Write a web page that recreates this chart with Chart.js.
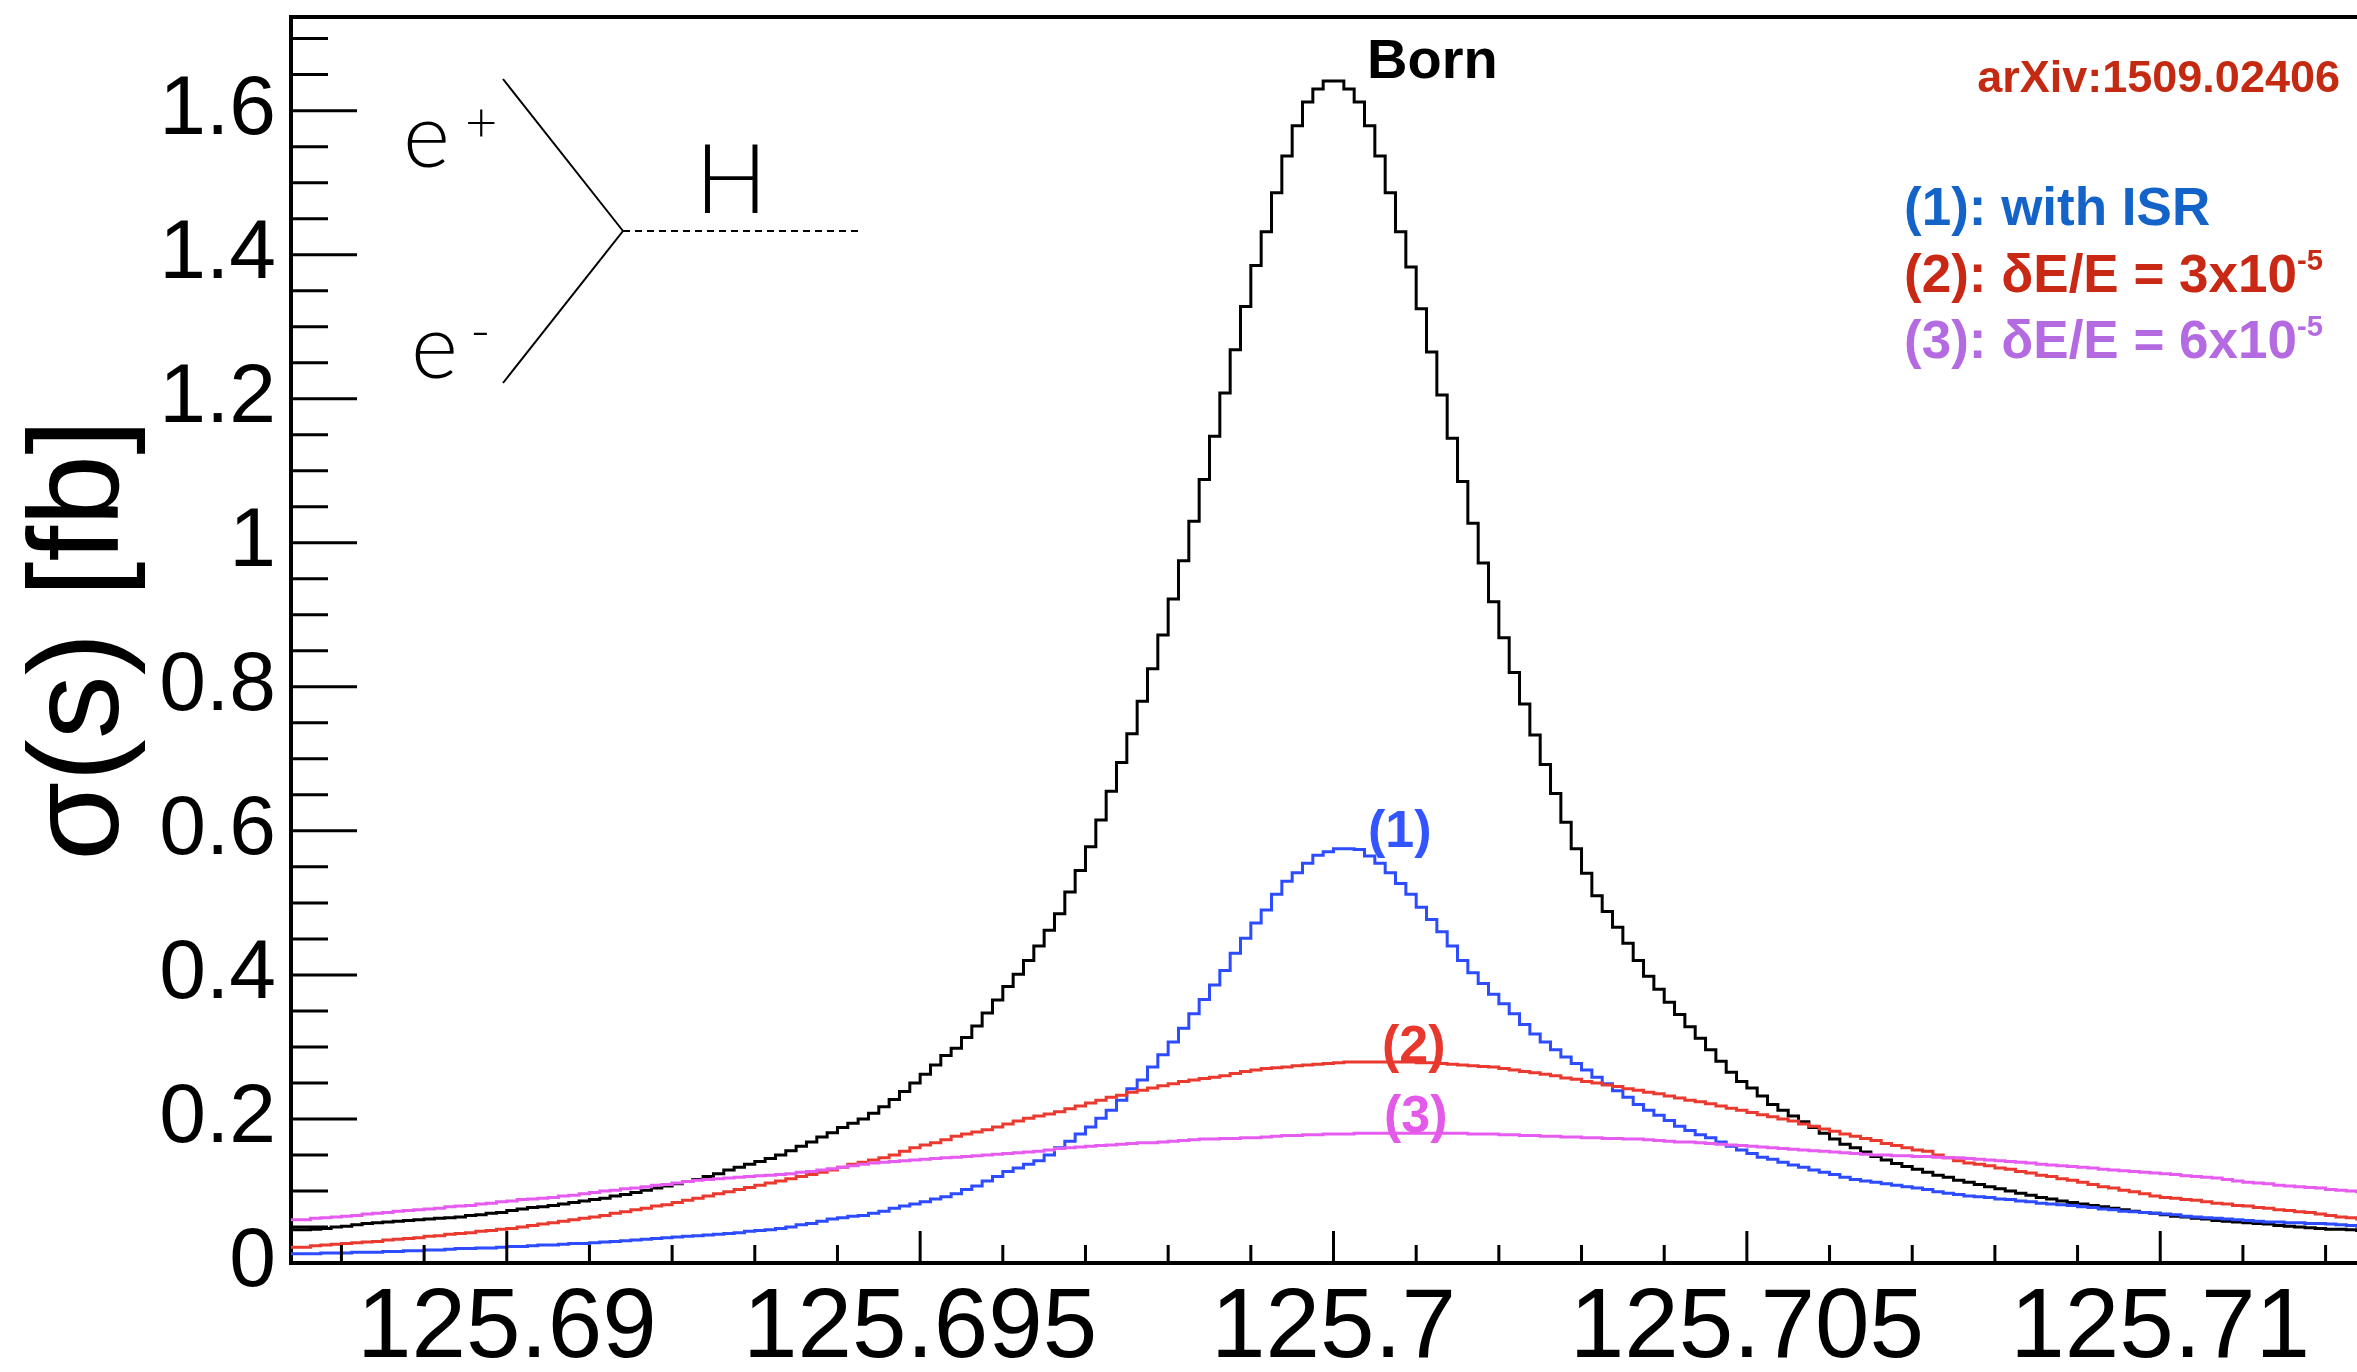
<!DOCTYPE html>
<html lang="en">
<head>
    <meta charset="UTF-8">
    <title>e+e- -> H line shape</title>
    <script src="https://cdn.jsdelivr.net/npm/chart.js@4.4.1/dist/chart.umd.min.js"></script>
    <style>
        body { margin: 0; background: #fff; overflow: hidden; }
        #wrap { position: relative; width: 2357px; height: 1372px; }
        .txt { position: absolute; white-space: nowrap; line-height: 1; font-family: "Liberation Sans", Arial, sans-serif; font-weight: bold; }
        .txt sup { font-size: 0.55em; line-height: 0; vertical-align: 0.75em; }
        .thin { position: absolute; white-space: nowrap; line-height: 1; font-family: Lato, "Liberation Sans", sans-serif; font-weight: 300; color: #000; }
    </style>
</head>
<body>
<div id="wrap">
    <canvas id="lineshape" width="2357" height="1372"></canvas>

    <!-- e+ e- -> H diagram -->
    <svg style="position:absolute;left:0;top:0" width="2357" height="1372">
        <line x1="503" y1="79" x2="623" y2="231" stroke="#000" stroke-width="2"/>
        <line x1="623" y1="231" x2="503" y2="383" stroke="#000" stroke-width="2"/>
        <line x1="623" y1="231" x2="861" y2="231" stroke="#000" stroke-width="2" stroke-dasharray="7 5"/>
    </svg>
    <div class="thin" style="left:403px;top:87px;font-size:90px">e</div>
    <div class="thin" style="left:465px;top:93px;font-size:56px">+</div>
    <div class="thin" style="left:411px;top:298px;font-size:90px">e</div>
    <div class="thin" style="left:470px;top:301px;font-size:56px">-</div>
    <div class="thin" style="left:695px;top:128px;font-size:96px">H</div>

    <!-- labels -->
    <div class="txt" style="left:1367px;top:31px;font-size:56px;color:#000">Born</div>
    <div class="txt" style="right:17px;top:54px;font-size:45px;color:#c42a12">arXiv:1509.02406</div>
    <div class="txt" style="left:1904px;top:180px;font-size:53px;color:#1463c8">(1): with ISR</div>
    <div class="txt" style="left:1904px;top:247px;font-size:53px;color:#c82814">(2): δE/E = 3x10<sup>-5</sup></div>
    <div class="txt" style="left:1904px;top:313px;font-size:53px;color:#b46ae0">(3): δE/E = 6x10<sup>-5</sup></div>
    <div class="txt" style="left:1368px;top:803px;font-size:52px;color:#3355ff">(1)</div>
    <div class="txt" style="left:1382px;top:1018px;font-size:52px;color:#e8382d">(2)</div>
    <div class="txt" style="left:1384px;top:1088px;font-size:52px;color:#e35ae8">(3)</div>
</div>

<script>
    // binning of the histograms (sqrt(s) in GeV)
    const binStart = 125.6875;
    const binWidth = 0.000125;
    const xMin = 125.68739;
    const xMax = 125.71238;
    const yMax = 1.73;

    const xTicks = [125.69, 125.695, 125.7, 125.705, 125.71];
    const xTickLabels = ['125.69', '125.695', '125.7', '125.705', '125.71'];
    const yTicks = [0, 0.2, 0.4, 0.6, 0.8, 1.0, 1.2, 1.4, 1.6];
    const yTickLabels = ['0', '0.2', '0.4', '0.6', '0.8', '1', '1.2', '1.4', '1.6'];

    // sigma(s) [fb], one value per bin (200 bins)
    const born = [
        0.046, 0.047, 0.048, 0.050, 0.051, 0.053, 0.055, 0.056, 0.057, 0.058,
        0.059, 0.060, 0.061, 0.062, 0.063, 0.064, 0.066, 0.067, 0.069, 0.070,
        0.073, 0.075, 0.077, 0.078, 0.080, 0.082, 0.084, 0.086, 0.088, 0.090,
        0.093, 0.095, 0.098, 0.101, 0.104, 0.107, 0.110, 0.113, 0.116, 0.120,
        0.124, 0.129, 0.133, 0.137, 0.141, 0.145, 0.150, 0.156, 0.162, 0.168,
        0.175, 0.181, 0.188, 0.194, 0.200, 0.208, 0.217, 0.227, 0.238, 0.250,
        0.262, 0.275, 0.288, 0.298, 0.313, 0.329, 0.347, 0.365, 0.384, 0.401,
        0.420, 0.440, 0.462, 0.485, 0.515, 0.545, 0.578, 0.615, 0.655, 0.695,
        0.735, 0.780, 0.825, 0.872, 0.922, 0.975, 1.030, 1.088, 1.148, 1.208,
        1.268, 1.328, 1.385, 1.432, 1.486, 1.537, 1.579, 1.612, 1.630, 1.641,
        1.641, 1.630, 1.612, 1.579, 1.537, 1.486, 1.432, 1.383, 1.325, 1.265,
        1.205, 1.145, 1.085, 1.027, 0.972, 0.918, 0.868, 0.820, 0.776, 0.733,
        0.692, 0.652, 0.612, 0.575, 0.541, 0.510, 0.488, 0.466, 0.444, 0.420,
        0.398, 0.380, 0.362, 0.345, 0.328, 0.312, 0.296, 0.280, 0.265, 0.252,
        0.243, 0.232, 0.220, 0.212, 0.204, 0.196, 0.188, 0.180, 0.172, 0.165,
        0.160, 0.154, 0.148, 0.143, 0.138, 0.134, 0.130, 0.126, 0.122, 0.119,
        0.115, 0.112, 0.109, 0.106, 0.103, 0.100, 0.097, 0.094, 0.091, 0.089,
        0.086, 0.084, 0.082, 0.080, 0.078, 0.076, 0.074, 0.072, 0.070, 0.069,
        0.067, 0.065, 0.064, 0.062, 0.061, 0.059, 0.058, 0.057, 0.056, 0.055,
        0.054, 0.052, 0.051, 0.050, 0.049, 0.048, 0.047, 0.047, 0.046, 0.045
    ];

    const withISR = [
        0.013, 0.013, 0.014, 0.014, 0.014, 0.015, 0.015, 0.015, 0.016, 0.016,
        0.017, 0.017, 0.018, 0.018, 0.019, 0.020, 0.020, 0.021, 0.021, 0.022,
        0.023, 0.023, 0.024, 0.025, 0.025, 0.026, 0.027, 0.027, 0.028, 0.029,
        0.030, 0.031, 0.032, 0.033, 0.034, 0.035, 0.036, 0.037, 0.038, 0.039,
        0.040, 0.041, 0.042, 0.044, 0.045, 0.046, 0.048, 0.050, 0.053, 0.055,
        0.058, 0.061, 0.063, 0.065, 0.066, 0.069, 0.072, 0.076, 0.079, 0.082,
        0.085, 0.089, 0.092, 0.096, 0.102, 0.107, 0.114, 0.120, 0.127, 0.132,
        0.137, 0.142, 0.150, 0.160, 0.169, 0.179, 0.189, 0.201, 0.212, 0.226,
        0.242, 0.254, 0.272, 0.289, 0.307, 0.326, 0.346, 0.366, 0.386, 0.406,
        0.430, 0.451, 0.472, 0.490, 0.512, 0.530, 0.542, 0.555, 0.566, 0.571,
        0.575, 0.575, 0.574, 0.565, 0.555, 0.542, 0.527, 0.512, 0.494, 0.477,
        0.460, 0.440, 0.420, 0.403, 0.388, 0.373, 0.360, 0.346, 0.331, 0.318,
        0.307, 0.296, 0.286, 0.277, 0.268, 0.258, 0.249, 0.239, 0.230, 0.220,
        0.212, 0.205, 0.198, 0.190, 0.184, 0.178, 0.174, 0.168, 0.162, 0.157,
        0.152, 0.147, 0.144, 0.140, 0.136, 0.133, 0.129, 0.126, 0.123, 0.119,
        0.116, 0.114, 0.112, 0.110, 0.108, 0.106, 0.104, 0.102, 0.099, 0.097,
        0.095, 0.093, 0.092, 0.091, 0.089, 0.088, 0.086, 0.085, 0.083, 0.082,
        0.081, 0.080, 0.078, 0.077, 0.075, 0.074, 0.072, 0.071, 0.070, 0.069,
        0.068, 0.067, 0.065, 0.064, 0.063, 0.062, 0.061, 0.060, 0.059, 0.058,
        0.057, 0.057, 0.056, 0.056, 0.055, 0.055, 0.054, 0.053, 0.052, 0.051
    ];

    const spread3 = [
        0.022, 0.024, 0.025, 0.026, 0.027, 0.028, 0.029, 0.030, 0.032, 0.033,
        0.034, 0.035, 0.037, 0.038, 0.040, 0.041, 0.042, 0.044, 0.045, 0.047,
        0.048, 0.050, 0.052, 0.054, 0.056, 0.058, 0.060, 0.062, 0.064, 0.066,
        0.069, 0.071, 0.074, 0.076, 0.079, 0.081, 0.084, 0.087, 0.090, 0.093,
        0.096, 0.099, 0.102, 0.105, 0.108, 0.111, 0.114, 0.117, 0.120, 0.123,
        0.126, 0.129, 0.133, 0.137, 0.140, 0.143, 0.146, 0.150, 0.155, 0.160,
        0.164, 0.167, 0.171, 0.176, 0.179, 0.182, 0.185, 0.189, 0.193, 0.197,
        0.201, 0.204, 0.207, 0.210, 0.214, 0.218, 0.222, 0.226, 0.230, 0.233,
        0.237, 0.240, 0.243, 0.246, 0.249, 0.252, 0.254, 0.256, 0.258, 0.260,
        0.263, 0.266, 0.268, 0.270, 0.271, 0.272, 0.274, 0.275, 0.276, 0.277,
        0.278, 0.279, 0.279, 0.279, 0.279, 0.279, 0.279, 0.279, 0.278, 0.278,
        0.277, 0.276, 0.275, 0.274, 0.273, 0.272, 0.270, 0.268, 0.266, 0.264,
        0.262, 0.260, 0.257, 0.255, 0.252, 0.250, 0.247, 0.245, 0.242, 0.240,
        0.237, 0.235, 0.232, 0.229, 0.226, 0.224, 0.221, 0.218, 0.215, 0.212,
        0.209, 0.206, 0.203, 0.200, 0.197, 0.193, 0.190, 0.186, 0.183, 0.179,
        0.176, 0.173, 0.170, 0.166, 0.163, 0.160, 0.157, 0.155, 0.150, 0.146,
        0.142, 0.139, 0.137, 0.135, 0.132, 0.130, 0.127, 0.125, 0.122, 0.120,
        0.117, 0.115, 0.112, 0.109, 0.106, 0.104, 0.101, 0.099, 0.096, 0.093,
        0.091, 0.090, 0.088, 0.087, 0.085, 0.083, 0.082, 0.080, 0.079, 0.077,
        0.076, 0.074, 0.073, 0.071, 0.070, 0.068, 0.066, 0.064, 0.063, 0.061
    ];

    const spread6 = [
        0.060, 0.062, 0.063, 0.064, 0.065, 0.066, 0.068, 0.069, 0.070, 0.072,
        0.073, 0.074, 0.075, 0.076, 0.078, 0.079, 0.080, 0.082, 0.083, 0.085,
        0.086, 0.088, 0.089, 0.090, 0.091, 0.093, 0.094, 0.096, 0.098, 0.100,
        0.101, 0.103, 0.104, 0.106, 0.108, 0.109, 0.111, 0.113, 0.115, 0.116,
        0.117, 0.118, 0.119, 0.120, 0.121, 0.122, 0.123, 0.124, 0.126, 0.127,
        0.129, 0.131, 0.133, 0.135, 0.137, 0.139, 0.140, 0.141, 0.142, 0.143,
        0.144, 0.145, 0.146, 0.147, 0.148, 0.149, 0.150, 0.151, 0.152, 0.153,
        0.154, 0.155, 0.157, 0.159, 0.160, 0.161, 0.162, 0.163, 0.164, 0.165,
        0.166, 0.167, 0.167, 0.168, 0.169, 0.170, 0.171, 0.172, 0.172, 0.173,
        0.173, 0.174, 0.174, 0.175, 0.176, 0.177, 0.177, 0.178, 0.178, 0.179,
        0.179, 0.179, 0.180, 0.180, 0.180, 0.180, 0.180, 0.180, 0.180, 0.180,
        0.180, 0.180, 0.180, 0.179, 0.179, 0.179, 0.178, 0.178, 0.177, 0.177,
        0.176, 0.176, 0.175, 0.175, 0.174, 0.174, 0.173, 0.173, 0.172, 0.172,
        0.171, 0.170, 0.169, 0.168, 0.168, 0.167, 0.166, 0.165, 0.164, 0.163,
        0.162, 0.161, 0.160, 0.159, 0.158, 0.157, 0.156, 0.155, 0.154, 0.153,
        0.152, 0.151, 0.150, 0.150, 0.149, 0.149, 0.148, 0.148, 0.147, 0.146,
        0.146, 0.145, 0.144, 0.143, 0.142, 0.141, 0.140, 0.139, 0.137, 0.136,
        0.135, 0.134, 0.133, 0.132, 0.130, 0.129, 0.128, 0.127, 0.126, 0.125,
        0.124, 0.123, 0.121, 0.120, 0.119, 0.118, 0.116, 0.114, 0.112, 0.111,
        0.110, 0.108, 0.107, 0.106, 0.105, 0.104, 0.102, 0.101, 0.100, 0.099
    ];

    // one point per lower bin edge, plus the closing edge
    function histPoints(values) {
        const pts = values.map((v, i) => ({ x: i === 0 ? xMin : binStart + i * binWidth, y: v }));
        pts.push({ x: binStart + values.length * binWidth, y: values[values.length - 1] });
        return pts;
    }

    function histDataset(label, values, color) {
        return {
            label: label,
            data: histPoints(values),
            borderColor: color,
            borderWidth: 3,
            stepped: 'before',
            pointRadius: 0,
            fill: false
        };
    }

    // ROOT style frame: inward ticks and top line
    const rootFrame = {
        id: 'rootFrame',
        afterDatasetsDraw(chart) {
            const { ctx, chartArea: a, scales: { x, y } } = chart;
            ctx.save();
            ctx.strokeStyle = '#000';
            ctx.lineWidth = 3;
            ctx.beginPath();
            for (let k = 0; k * 0.05 <= yMax; k++) {
                const py = y.getPixelForValue(k * 0.05);
                ctx.moveTo(a.left, py);
                ctx.lineTo(a.left + (k % 4 === 0 ? 66 : 37), py);
            }
            for (let k = Math.ceil(xMin * 1000); k <= Math.floor(xMax * 1000); k++) {
                const px = x.getPixelForValue(k / 1000);
                ctx.moveTo(px, a.bottom);
                ctx.lineTo(px, a.bottom - (k % 5 === 0 ? 32 : 18));
            }
            ctx.stroke();
            ctx.lineWidth = 4;
            ctx.beginPath();
            ctx.moveTo(a.left - 2, a.top);
            ctx.lineTo(a.right, a.top);
            ctx.stroke();
            ctx.restore();
        }
    };

    new Chart(document.getElementById('lineshape'), {
        type: 'line',
        data: {
            datasets: [
                histDataset('(3): dE/E = 6x10-5', spread6, '#e65cf0'),
                histDataset('(2): dE/E = 3x10-5', spread3, '#ea3a30'),
                histDataset('(1): with ISR', withISR, '#2d4bff'),
                histDataset('Born', born, '#000000')
            ]
        },
        options: {
            responsive: false,
            animation: false,
            devicePixelRatio: 1,
            layout: { padding: { top: 17, right: 0, bottom: 0, left: 0 } },
            plugins: { legend: { display: false }, tooltip: { enabled: false } },
            scales: {
                x: {
                    type: 'linear',
                    min: xMin,
                    max: xMax,
                    grid: { display: false, drawTicks: false },
                    border: { display: true, color: '#000', width: 4 },
                    afterBuildTicks: (scale) => { scale.ticks = xTicks.map(v => ({ value: v })); },
                    afterFit: (scale) => { scale.height = 109; scale.paddingLeft = 0; scale.paddingRight = 0; },
                    ticks: {
                        autoSkip: false,
                        maxRotation: 0,
                        minRotation: 0,
                        padding: 8,
                        color: '#000',
                        font: { family: 'Liberation Sans', size: 98 },
                        callback: (v, i) => xTickLabels[i]
                    }
                },
                y: {
                    min: 0,
                    max: yMax,
                    grid: { display: false, drawTicks: false },
                    border: { display: true, color: '#000', width: 4 },
                    afterBuildTicks: (scale) => { scale.ticks = yTicks.map(v => ({ value: v })); },
                    afterFit: (scale) => { scale.width = 291; scale.paddingTop = 0; scale.paddingBottom = 0; },
                    ticks: {
                        autoSkip: false,
                        padding: 15,
                        color: '#000',
                        font: { family: 'Liberation Sans', size: 84 },
                        callback: (v, i) => yTickLabels[i]
                    },
                    title: {
                        display: true,
                        text: 'σ(s) [fb]',
                        color: '#000',
                        padding: { top: 6, bottom: 0 },
                        font: { family: 'Liberation Sans', size: 128, lineHeight: 1.2 }
                    }
                }
            }
        },
        plugins: [rootFrame]
    });
</script>
</body>
</html>
